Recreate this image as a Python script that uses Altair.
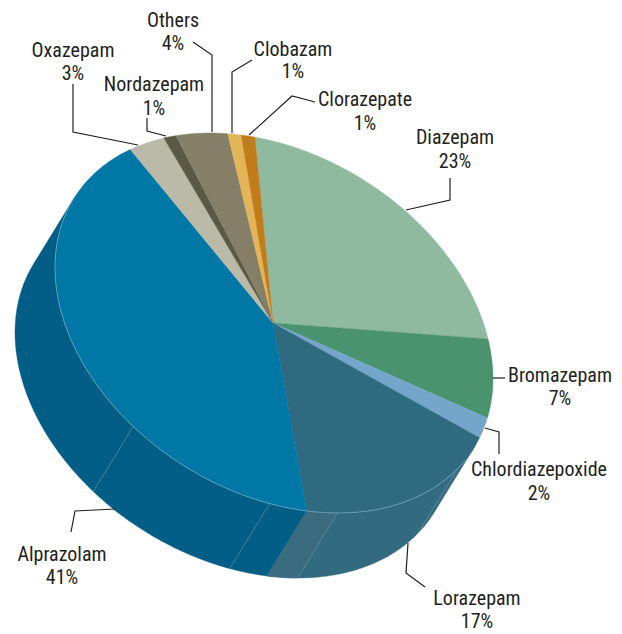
import math
import altair as alt

# ---- chart values (shares in percent, clockwise from the top of the pie)
drugs = ["Diazepam", "Bromazepam", "Chlordiazepoxide", "Lorazepam", "Alprazolam",
         "Oxazepam", "Nordazepam", "Others", "Clobazam", "Clorazepate"]
shares = [23, 7, 2, 17, 41, 3, 1, 4, 1, 1]
top_colors = ["#90BAA0", "#4B936E", "#74A6CC", "#306A80", "#0177A6",
              "#BBBAA8", "#5A5944", "#847F66", "#E3B558", "#C17C1C"]
side_colors = ["#90BAA0", "#4B936E", "#74A6CC", "#326A80", "#025E86",
               "#BBBAA8", "#5A5944", "#847F66", "#E3B558", "#C17C1C"]

# ---- side-wall seams and the lighter band, as cumulative percent round the pie
seam_at = [35.5, 46.7, 51.7, 62.5]
band_from, band_to, band_color = 46.7, 49.0, "#3A6B7E"

# ---- projection of the pie (pixels)
CX, CY, RX, RY, SKEW, START = 274, 323, 219, 190, 17, -95
DEPTH_X, DEPTH_Y = -40, 65


def rim(pct, dx=0, dy=0):
    t = START + pct * 3.6
    return [CX + RX * math.cos(math.radians(t)) + dx,
            CY + RY * math.sin(math.radians(t + SKEW)) + dy]


def arc(a, b, dx=0, dy=0):
    n = max(2, int(abs(b - a) * 4))
    return [rim(a + (b - a) * i / n, dx, dy) for i in range(n + 1)]


def facing(pct):
    # cross product of the rim's direction and the extrusion direction
    t = math.radians(START + pct * 3.6)
    vx = -RX * math.sin(t)
    vy = RY * math.cos(t + math.radians(SKEW))
    return vx * DEPTH_Y - vy * DEPTH_X


def feature(kind, coords, color):
    return {"type": "Feature", "properties": {"color": color},
            "geometry": {"type": kind, "coordinates": coords}}


# the visible wall runs between the two points where the rim turns parallel to the depth
grid = [i / 20 for i in range(2001)]
turns = [g for g, h in zip(grid[:-1], grid[1:]) if facing(g) * facing(h) <= 0]
wall_from, wall_to = turns[0], turns[1]

edges = [0]
for s in shares:
    edges.append(edges[-1] + s)

tops, sides = [], []
apex = [273, 323]
for i, (a, b) in enumerate(zip(edges[:-1], edges[1:])):
    tops.append(feature("Polygon", [[apex] + arc(a, b) + [apex]], top_colors[i]))
    lo, hi = max(a, wall_from), min(b, wall_to)
    if hi > lo:
        ring = arc(lo, hi) + arc(hi, lo, DEPTH_X, DEPTH_Y)
        sides.append(feature("Polygon", [ring + [ring[0]]], side_colors[i]))
ring = arc(band_from, band_to) + arc(band_to, band_from, DEPTH_X, DEPTH_Y)
sides.append(feature("Polygon", [ring + [ring[0]]], band_color))

seams = [feature("LineString", [rim(p), rim(p, DEPTH_X, DEPTH_Y)], "#6E9AAE") for p in seam_at]
rim_line = [feature("LineString", arc(wall_from + 1.5, wall_to), "#8FBBCE")]

# ---- annotation layout (pixels)
label_names = drugs
label_x = [455, 560, 539, 477, 62, 73, 154, 173, 293, 365]
label_y = [138, 376, 470, 599, 555, 51, 85, 21, 50, 100]
pct_y = [162, 399, 494, 622, 578, 74, 109, 44, 72, 124]
leaders = [
    [[406, 210], [450, 200], [450, 178]],
    [[493, 378], [505, 378]],
    [[485, 428], [499, 432], [499, 454]],
    [[408, 543], [406, 573], [425, 587]],
    [[115, 509], [75, 511], [71, 532]],
    [[73, 84], [73, 132], [138, 145]],
    [[147, 118], [147, 131], [166, 136]],
    [[193, 42], [212, 55], [212, 132]],
    [[252, 60], [232, 72], [232, 133]],
    [[249, 135], [292, 96], [315, 102]],
]
leader_lines = [feature("LineString", l, "#231F20") for l in leaders]

texts = []
for n, s, x, y, y2 in zip(label_names, shares, label_x, label_y, pct_y):
    texts.append({"t": n, "x": x, "y": y})
    texts.append({"t": f"{s}%", "x": x, "y": y2})

proj = alt.Projection(type="identity", scale=1, translate=[-8, -8])
color_enc = alt.Color("properties.color:N", scale=None, legend=None)
stroke_enc = alt.Stroke("properties.color:N", scale=None, legend=None)


def shapes(features, **kw):
    return alt.Chart(alt.Data(values=features)).mark_geoshape(**kw)


side_layer = shapes(sides, strokeWidth=0.4).encode(color=color_enc, stroke=stroke_enc)
seam_layer = shapes(seams, filled=False, strokeWidth=0.6).encode(stroke=stroke_enc)
rim_layer = shapes(rim_line, filled=False, strokeWidth=0.6).encode(stroke=stroke_enc)
top_layer = shapes(tops, strokeWidth=0.4).encode(color=color_enc, stroke=stroke_enc)
lead_layer = shapes(leader_lines, filled=False, strokeWidth=1.2).encode(stroke=stroke_enc)
text_layer = alt.Chart(alt.Data(values=texts)).mark_text(
    font="Roboto Condensed, Roboto", fontSize=20, color="#231F20", align="center", baseline="middle"
).encode(longitude="x:Q", latitude="y:Q", text="t:N")

chart = alt.layer(side_layer, seam_layer, top_layer, rim_layer, lead_layer, text_layer).properties(
    width=606, height=626, projection=proj, padding=0, background="white",
).configure_view(stroke=None)

chart.save("out.html", embed_options={"renderer": "svg", "actions": False})
